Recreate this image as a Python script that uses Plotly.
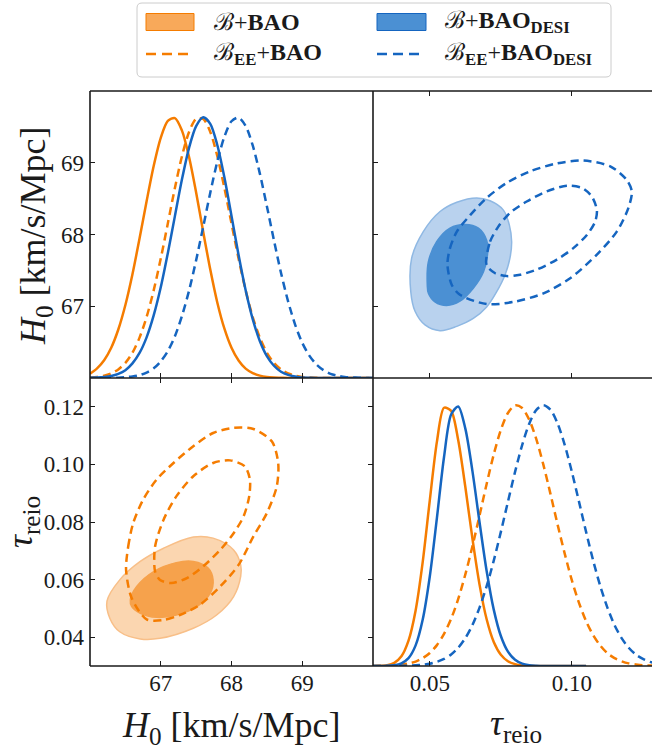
import plotly.graph_objects as go

# ---------------- data ----------------
H0_GRID = [66.0, 66.1, 66.2, 66.3, 66.4, 66.5, 66.6, 66.7, 66.8, 66.9,
           67.0, 67.1, 67.2, 67.3, 67.4, 67.5, 67.6, 67.7, 67.8, 67.9,
           68.0, 68.1, 68.2, 68.3, 68.4, 68.5, 68.6, 68.7, 68.8, 68.9,
           69.0, 69.1, 69.2, 69.3, 69.4, 69.5, 69.6, 69.7, 69.8, 69.9, 70.0]

H0_PDF_BAO = [0.016, 0.037, 0.068, 0.116, 0.186, 0.280, 0.398, 0.535, 0.678, 0.813,
              0.921, 0.986, 0.997, 0.949, 0.848, 0.712, 0.561, 0.416, 0.289, 0.189,
              0.116, 0.067, 0.036, 0.019, 0.009, 0.004, 0.002, 0.001, 0, 0,
              0, 0, 0, 0, 0, 0, 0, 0, 0, 0, 0]
H0_PDF_EE_BAO = [0.002, 0.004, 0.009, 0.018, 0.033, 0.058, 0.097, 0.155, 0.234, 0.336,
                 0.458, 0.593, 0.729, 0.851, 0.944, 0.994, 0.994, 0.944, 0.851, 0.729,
                 0.593, 0.458, 0.336, 0.234, 0.155, 0.097, 0.058, 0.033, 0.018, 0.009,
                 0.004, 0.002, 0.001, 0, 0, 0, 0, 0, 0, 0, 0]
H0_PDF_DESI = [0.001, 0.002, 0.004, 0.008, 0.016, 0.030, 0.056, 0.096, 0.156, 0.240,
               0.348, 0.479, 0.621, 0.762, 0.883, 0.966, 1.000, 0.975, 0.893, 0.769,
               0.622, 0.472, 0.337, 0.226, 0.142, 0.084, 0.047, 0.024, 0.012, 0.006,
               0.002, 0.001, 0, 0, 0, 0, 0, 0, 0, 0, 0]
H0_PDF_EE_DESI = [0, 0, 0, 0.001, 0.001, 0.003, 0.006, 0.011, 0.021, 0.037,
                  0.064, 0.103, 0.160, 0.238, 0.335, 0.452, 0.580, 0.711, 0.831, 0.926,
                  0.985, 0.999, 0.967, 0.892, 0.785, 0.659, 0.528, 0.403, 0.294, 0.204,
                  0.135, 0.086, 0.052, 0.030, 0.016, 0.009, 0.004, 0.002, 0.001, 0, 0]

TAU_GRID_SHORT = [0.0300, 0.0325, 0.0350, 0.0375, 0.0400, 0.0425, 0.0450, 0.0475, 0.0500, 0.0525,
                  0.0550, 0.0575, 0.0600, 0.0625, 0.0650, 0.0675, 0.0700, 0.0725, 0.0750, 0.0775,
                  0.0800, 0.0825, 0.0850, 0.0875, 0.0900, 0.0925, 0.0950, 0.0975, 0.1000, 0.1025,
                  0.1050]
TAU_GRID_LONG = TAU_GRID_SHORT + [0.1075, 0.1100, 0.1125, 0.1150, 0.1175, 0.1200, 0.1225,
                                  0.1250, 0.1275, 0.1300]

TAU_PDF_BAO = [0.000, 0.001, 0.003, 0.012, 0.037, 0.097, 0.213, 0.399, 0.636, 0.860,
               0.990, 0.978, 0.865, 0.686, 0.488, 0.312, 0.179, 0.092, 0.043, 0.018,
               0.007, 0.002, 0.001, 0, 0, 0, 0, 0, 0, 0, 0]
TAU_PDF_DESI = [0, 0, 0.001, 0.003, 0.010, 0.030, 0.079, 0.178, 0.344, 0.568,
                0.801, 0.964, 0.995, 0.910, 0.747, 0.551, 0.364, 0.216, 0.115, 0.055,
                0.024, 0.009, 0.003, 0.001, 0, 0, 0, 0, 0, 0, 0]
TAU_PDF_EE_BAO = [0.000, 0.001, 0.001, 0.003, 0.005, 0.010, 0.017, 0.030, 0.050, 0.080,
                  0.123, 0.181, 0.257, 0.351, 0.459, 0.577, 0.698, 0.811, 0.905, 0.970,
                  0.999, 0.989, 0.944, 0.869, 0.770, 0.658, 0.541, 0.430, 0.328, 0.242,
                  0.172, 0.118, 0.078, 0.049, 0.030, 0.018, 0.010, 0.006, 0.003, 0.002,
                  0.001]
TAU_PDF_EE_DESI = [0.000, 0.000, 0.000, 0.000, 0.001, 0.001, 0.003, 0.005, 0.009, 0.016,
                   0.027, 0.044, 0.070, 0.107, 0.157, 0.224, 0.306, 0.404, 0.514, 0.630,
                   0.744, 0.847, 0.929, 0.982, 1.000, 0.982, 0.929, 0.847, 0.744, 0.630,
                   0.514, 0.404, 0.306, 0.224, 0.157, 0.107, 0.070, 0.044, 0.027, 0.016,
                   0.009]

# 2D contours: B+BAO (orange) in the (H0, tau) panel
BAO_95_H0 = [66.24, 66.28, 66.42, 66.71, 66.99, 67.46, 67.79, 68.03, 68.13, 68.13,
             68.03, 67.74, 67.46, 67.04, 66.71, 66.42]
BAO_95_TAU = [0.0525, 0.0466, 0.0419, 0.0394, 0.0396, 0.0431, 0.0477, 0.0541, 0.0611, 0.0651,
              0.0703, 0.0744, 0.0748, 0.0709, 0.0663, 0.0599]
BAO_68_H0 = [66.57, 66.59, 66.71, 66.94, 67.22, 67.51, 67.70, 67.74, 67.67, 67.46,
             67.22, 66.90, 66.66]
BAO_68_TAU = [0.0530, 0.0506, 0.0483, 0.0469, 0.0477, 0.0506, 0.0553, 0.0599, 0.0640, 0.0663,
              0.0659, 0.0628, 0.0576]
EE_BAO_95_H0 = [66.51, 66.54, 66.61, 66.75, 66.94, 67.18, 67.46, 67.74, 68.03, 68.31,
                68.57, 68.66, 68.64, 68.50, 68.31, 68.10, 67.84, 67.55, 67.27, 67.04,
                66.80, 66.59]
EE_BAO_95_TAU = [0.0634, 0.0715, 0.0796, 0.0877, 0.0947, 0.1005, 0.1063, 0.1109, 0.1127, 0.1123,
                 0.1080, 0.1005, 0.0924, 0.0831, 0.0750, 0.0651, 0.0576, 0.0512, 0.0477, 0.0460,
                 0.0462, 0.0535]
EE_BAO_68_H0 = [66.92, 66.92, 67.04, 67.22, 67.46, 67.74, 67.98, 68.19, 68.26, 68.25,
                68.17, 68.03, 67.84, 67.60, 67.37, 67.15, 66.99]
EE_BAO_68_TAU = [0.0628, 0.0715, 0.0808, 0.0889, 0.0959, 0.1005, 0.1014, 0.0993, 0.0947, 0.0889,
                 0.0819, 0.0761, 0.0703, 0.0646, 0.0605, 0.0588, 0.0599]

# 2D contours: B+BAO_DESI (blue) in the (tau, H0) panel
DESI_95_TAU = [0.0433, 0.0436, 0.0477, 0.0536, 0.0595, 0.0665, 0.0712, 0.0759, 0.0780, 0.0788,
               0.0782, 0.0765, 0.0735, 0.0700, 0.0653, 0.0595, 0.0536, 0.0483, 0.0448]
DESI_95_H0 = [67.20, 67.67, 68.04, 68.32, 68.45, 68.51, 68.47, 68.34, 68.13, 67.90,
              67.67, 67.44, 67.20, 66.99, 66.83, 66.72, 66.66, 66.74, 66.93]
DESI_68_TAU = [0.0491, 0.0495, 0.0524, 0.0571, 0.0624, 0.0671, 0.0700, 0.0703, 0.0689, 0.0653,
               0.0606, 0.0559, 0.0518, 0.0495]
DESI_68_H0 = [67.30, 67.62, 67.90, 68.09, 68.14, 68.09, 67.92, 67.72, 67.48, 67.25,
              67.07, 67.01, 67.06, 67.18]
EE_DESI_95_TAU = [0.0562, 0.0571, 0.0595, 0.0642, 0.0700, 0.0771, 0.0853, 0.0947, 0.1041, 0.1135,
                  0.1193, 0.1211, 0.1199, 0.1158, 0.1088, 0.0994, 0.0900, 0.0794, 0.0700, 0.0606,
                  0.0577]
EE_DESI_95_H0 = [67.58, 67.81, 68.04, 68.27, 68.51, 68.72, 68.88, 68.99, 69.03, 68.95,
                 68.76, 68.60, 68.37, 68.04, 67.72, 67.39, 67.18, 67.06, 67.03, 67.16,
                 67.30]
EE_DESI_68_TAU = [0.0698, 0.0712, 0.0741, 0.0782, 0.0841, 0.0911, 0.0982, 0.1035, 0.1070, 0.1088,
                  0.1082, 0.1052, 0.1005, 0.0947, 0.0876, 0.0818, 0.0771, 0.0730, 0.0703]
EE_DESI_68_H0 = [67.62, 67.90, 68.11, 68.30, 68.46, 68.60, 68.68, 68.65, 68.53, 68.34,
                 68.18, 67.99, 67.81, 67.65, 67.51, 67.44, 67.42, 67.46, 67.55]

H0_TICKS = [67, 68, 69]
TAU_TICKS_Y = [0.04, 0.06, 0.08, 0.10, 0.12]
TAU_TICKS_X = [0.05, 0.10]
LEGEND_LABELS = ["ℬ+<b>BAO</b>",
                 "ℬ+<b>BAO</b><sub><b>DESI</b></sub>",
                 "ℬ<sub><b>EE</b></sub>+<b>BAO</b>",
                 "ℬ<sub><b>EE</b></sub>+<b>BAO</b><sub><b>DESI</b></sub>"]
H0_LABEL = "<i>H</i><sub>0</sub> [km/s/Mpc]"
TAU_LABEL = "<i>τ</i><sub>reio</sub>"

# ---------------- styling ----------------
W, H = 652, 749
FONT = "Liberation Serif"
ORANGE = "#f57c00"
BLUE = "#1565c0"
OR_LIGHT, OR_DARK, OR_EDGE = "#fbd6b0", "#f6a24c", "#f8bf88"
BL_LIGHT, BL_DARK, BL_EDGE = "#b9d2ee", "#4b90d3", "#8fb8e3"
AX = "#1a1a1a"
DASH = "8px,5px"
LW = 2.5


def px(x):
    return x / W


def py(y):
    return 1 - y / H


LEFT = [px(90), px(373)]
RIGHT = [px(373), 1.0]
TOP = [py(378), py(91)]
BOT = [py(666), py(378)]


def closed(a):
    return list(a) + [a[0]]


fig = go.Figure()


def line(x, y, color, dash, xa, ya):
    fig.add_trace(go.Scatter(x=x, y=y, mode="lines", xaxis=xa, yaxis=ya,
                             line=dict(color=color, width=LW, dash=dash,
                                       shape="spline", smoothing=0.8),
                             showlegend=False, hoverinfo="skip"))


def filled(x, y, fillc, edge, xa, ya):
    fig.add_trace(go.Scatter(x=closed(x), y=closed(y), mode="lines", fill="toself",
                             fillcolor=fillc, xaxis=xa, yaxis=ya,
                             line=dict(color=edge, width=1.5, shape="spline", smoothing=1.0),
                             showlegend=False, hoverinfo="skip"))


# top-left: H0 posteriors
line(H0_GRID, H0_PDF_BAO, ORANGE, "solid", "x", "y")
line(H0_GRID, H0_PDF_EE_BAO, ORANGE, DASH, "x", "y")
line(H0_GRID, H0_PDF_DESI, BLUE, "solid", "x", "y")
line(H0_GRID, H0_PDF_EE_DESI, BLUE, DASH, "x", "y")
fig.add_trace(go.Scatter(x=[], y=[], xaxis="x", yaxis="y5", showlegend=False))

# top-right: DESI contours (tau, H0)
filled(DESI_95_TAU, DESI_95_H0, BL_LIGHT, BL_EDGE, "x2", "y2")
filled(DESI_68_TAU, DESI_68_H0, BL_DARK, BL_DARK, "x2", "y2")
line(closed(EE_DESI_95_TAU), closed(EE_DESI_95_H0), BLUE, DASH, "x2", "y2")
line(closed(EE_DESI_68_TAU), closed(EE_DESI_68_H0), BLUE, DASH, "x2", "y2")

# bottom-left: BAO contours (H0, tau)
filled(BAO_95_H0, BAO_95_TAU, OR_LIGHT, OR_EDGE, "x3", "y3")
filled(BAO_68_H0, BAO_68_TAU, OR_DARK, OR_DARK, "x3", "y3")
line(closed(EE_BAO_95_H0), closed(EE_BAO_95_TAU), ORANGE, DASH, "x3", "y3")
line(closed(EE_BAO_68_H0), closed(EE_BAO_68_TAU), ORANGE, DASH, "x3", "y3")

# bottom-right: tau posteriors
line(TAU_GRID_SHORT, TAU_PDF_BAO, ORANGE, "solid", "x4", "y4")
line(TAU_GRID_LONG, TAU_PDF_EE_BAO, ORANGE, DASH, "x4", "y4")
line(TAU_GRID_SHORT, TAU_PDF_DESI, BLUE, "solid", "x4", "y4")
line(TAU_GRID_LONG, TAU_PDF_EE_DESI, BLUE, DASH, "x4", "y4")

base = dict(showline=False, ticks="inside", ticklen=5,
            tickwidth=1.2, tickcolor=AX, showgrid=False, zeroline=False,
            tickfont=dict(family=FONT, size=23, color=AX), fixedrange=True)

fig.update_layout(
    width=W, height=H, margin=dict(l=0, r=0, t=0, b=0),
    paper_bgcolor="white", plot_bgcolor="white", showlegend=False,
    xaxis=dict(base, domain=LEFT, anchor="y", range=[66, 70], tickvals=H0_TICKS,
               showticklabels=False),
    yaxis=dict(base, domain=TOP, anchor="x", range=[0, 1.101], ticks="",
               showticklabels=False),
    yaxis5=dict(base, overlaying="y", anchor="x", side="left", range=[66, 70],
                tickvals=H0_TICKS, ticklabelstandoff=5),
    xaxis2=dict(base, domain=RIGHT, anchor="y2", range=[0.03, 0.1282], tickvals=TAU_TICKS_X,
                showticklabels=False, mirror="ticks"),
    yaxis2=dict(base, domain=TOP, anchor="x2", range=[66, 70], tickvals=H0_TICKS,
                showticklabels=False),
    xaxis3=dict(base, domain=LEFT, anchor="y3", range=[66, 70], tickvals=H0_TICKS,
                mirror="ticks", ticklabelstandoff=1),
    yaxis3=dict(base, domain=BOT, anchor="x3", range=[0.03, 0.13], tickvals=TAU_TICKS_Y,
                tickformat=".2f", mirror="ticks", ticklabelstandoff=5),
    xaxis4=dict(base, domain=RIGHT, anchor="y4", range=[0.03, 0.1282], tickvals=TAU_TICKS_X,
                tickformat=".2f", ticklabelstandoff=1),
    yaxis4=dict(base, domain=BOT, anchor="x4", range=[0, 1.104], ticks="",
                showticklabels=False),
)

# panel borders
for (ax0, ay0, ax1, ay1) in [(90, 91, 652, 91), (90, 91, 90, 666), (90, 666, 652, 666),
                             (373, 91, 373, 666), (90, 378, 652, 378)]:
    fig.add_shape(type="line", xref="paper", yref="paper",
                  x0=px(ax0), y0=py(ay0), x1=px(ax1), y1=py(ay1),
                  line=dict(color=AX, width=1.6))

# axis titles
tfont = dict(family=FONT, size=36, color=AX)
fig.add_annotation(x=px(35), y=py(236), xref="paper", yref="paper", text=H0_LABEL,
                   textangle=-90, showarrow=False, font=tfont, xanchor="center", yanchor="middle")
fig.add_annotation(x=px(22), y=py(522), xref="paper", yref="paper", text=TAU_LABEL,
                   textangle=-90, showarrow=False, font=tfont, xanchor="center", yanchor="middle")
fig.add_annotation(x=px(231.5), y=py(727), xref="paper", yref="paper", text=H0_LABEL,
                   showarrow=False, font=tfont, xanchor="center", yanchor="middle")
fig.add_annotation(x=px(515.5), y=py(725), xref="paper", yref="paper", text=TAU_LABEL,
                   showarrow=False, font=tfont, xanchor="center", yanchor="middle")

# legend box (rounded)
x0, y0, x1, y1, r = 137, 3, 611, 77, 5
path = (f"M{px(x0 + r)},{py(y0)} L{px(x1 - r)},{py(y0)} Q{px(x1)},{py(y0)} {px(x1)},{py(y0 + r)} "
        f"L{px(x1)},{py(y1 - r)} Q{px(x1)},{py(y1)} {px(x1 - r)},{py(y1)} "
        f"L{px(x0 + r)},{py(y1)} Q{px(x0)},{py(y1)} {px(x0)},{py(y1 - r)} "
        f"L{px(x0)},{py(y0 + r)} Q{px(x0)},{py(y0)} {px(x0 + r)},{py(y0)} Z")
fig.add_shape(type="path", path=path, xref="paper", yref="paper",
              line=dict(color="#cccccc", width=1), fillcolor="rgba(255,255,255,0.9)")

lfont = dict(family=FONT, size=24, color=AX)
cols = [(146, 194, 212, ORANGE, "#f8a95a"), (377, 426, 443, BLUE, "#4b90d3")]
rows_y = [22, 54]
for ci, (sx0, sx1, tx, col, patch) in enumerate(cols):
    fig.add_shape(type="rect", xref="paper", yref="paper",
                  x0=px(sx0), x1=px(sx1), y0=py(rows_y[0] + 8.5), y1=py(rows_y[0] - 8.5),
                  fillcolor=patch, line=dict(color=col, width=1))
    fig.add_shape(type="line", xref="paper", yref="paper",
                  x0=px(sx0), x1=px(sx1 - 6), y0=py(rows_y[1]), y1=py(rows_y[1]),
                  line=dict(color=col, width=LW, dash="10px,6px"))
    fig.add_annotation(x=px(tx), y=py(rows_y[0]), xref="paper", yref="paper",
                       text=LEGEND_LABELS[ci], showarrow=False, font=lfont,
                       xanchor="left", yanchor="middle")
    fig.add_annotation(x=px(tx), y=py(rows_y[1]), xref="paper", yref="paper",
                       text=LEGEND_LABELS[ci + 2], showarrow=False, font=lfont,
                       xanchor="left", yanchor="middle")

fig.write_html("out.html", config={"displayModeBar": False})
